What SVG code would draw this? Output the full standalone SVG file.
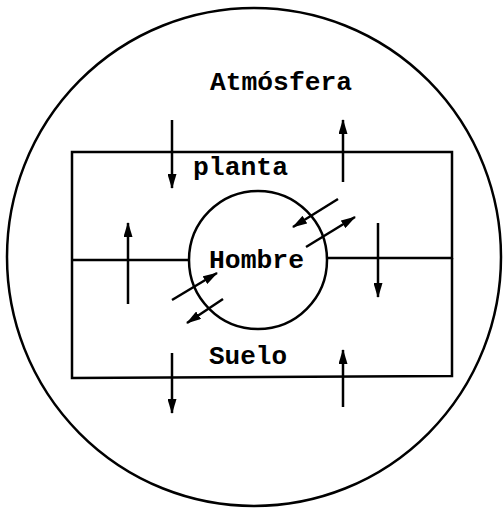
<svg xmlns="http://www.w3.org/2000/svg" width="503" height="509" viewBox="0 0 503 509">
<style>
.ln{fill:none;stroke:#000;stroke-width:2.5}
.ar{fill:none;stroke:#000;stroke-width:2.5;marker-end:url(#ah)}
.t{font-family:"Liberation Mono","Courier New",monospace;font-weight:bold;font-size:25px;fill:#000}
</style>
<defs>
<marker id="ah" viewBox="0 0 15 9" refX="14" refY="4.5" markerWidth="15" markerHeight="9" markerUnits="userSpaceOnUse" orient="auto">
<path d="M0,0 L15,4.5 L0,9 Z" fill="#000"/>
</marker>
</defs>
<rect width="503" height="509" fill="#fff"/>
<g id="atmosfera">
<ellipse class="ln" cx="254" cy="257" rx="247" ry="249" stroke-width="2"/>
<text class="t" x="210" y="90" textLength="142" lengthAdjust="spacingAndGlyphs">Atmósfera</text>
</g>
<g id="planta">
<path class="ln" d="M72,260 L72,152 L452,152 L452,258 L327,258"/>
<path class="ln" d="M72,260 L189,260"/>
<text class="t" x="193" y="175" textLength="95" lengthAdjust="spacingAndGlyphs">planta</text>
</g>
<g id="suelo">
<path class="ln" d="M72,260 L72,378 L452,376 L452,258"/>
<text class="t" x="209" y="364" textLength="78" lengthAdjust="spacingAndGlyphs">Suelo</text>
</g>
<g id="hombre">
<circle class="ln" cx="258" cy="260" r="69"/>
<text class="t" x="209" y="268" textLength="95" lengthAdjust="spacingAndGlyphs">Hombre</text>
</g>
<g id="connectors">
<line class="ar" x1="172" y1="120" x2="172" y2="188"/>
<line class="ar" x1="343" y1="182" x2="343" y2="120"/>
<line class="ar" x1="128" y1="304" x2="128" y2="223"/>
<line class="ar" x1="378" y1="223" x2="378" y2="297"/>
<line class="ar" x1="172" y1="353" x2="172" y2="413"/>
<line class="ar" x1="343" y1="407" x2="343" y2="350"/>
<line class="ar" x1="338" y1="199" x2="293" y2="227"/>
<line class="ar" x1="306" y1="247" x2="355" y2="217"/>
<line class="ar" x1="172" y1="300" x2="217" y2="273"/>
<line class="ar" x1="223" y1="299" x2="187" y2="323"/>
</g>
</svg>
